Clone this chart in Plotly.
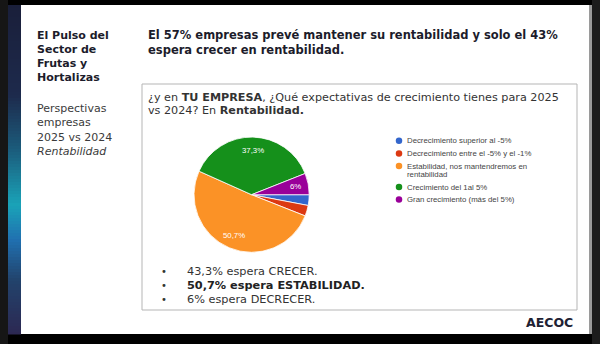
import math
import plotly.graph_objects as go

# ---------------- data ----------------
categories = [
    "Decrecimiento superior al -5%",
    "Decrecimiento entre el -5% y el -1%",
    "Estabilidad, nos mantendremos en\nrentabilidad",
    "Crecimiento del 1al 5%",
    "Gran crecimiento (más del 5%)",
]
values = [3.0, 3.0, 50.7, 37.3, 6.0]
colors = ["#3366cc", "#dc3912", "#fb9226", "#15901b", "#990099"]

summary_pct = ["43,3%", "50,7%", "6%"]
summary_rest = [" espera CRECER.", " espera ESTABILIDAD.", " espera DECRECER."]
summary_bold = [False, True, False]

side_title = ["El Pulso del", "Sector de", "Frutas y", "Hortalizas"]
side_sub = ["Perspectivas", "empresas", "2025 vs 2024"]
side_sub_italic = "Rentabilidad"
headline = ["El 57% empresas prevé mantener su rentabilidad y solo el 43%",
            "espera crecer en rentabilidad."]
question = ["¿y en <b>TU EMPRESA</b>, ¿Qué expectativas de crecimiento tienes para 2025",
            "vs 2024? En <b>Rentabilidad.</b>"]
brand = "AECOC"

# ---------------- helpers ----------------
W, H = 600, 344
VERDANA = "DejaVu Sans"
ARIAL = "Liberation Sans"


def txt(x, y, s, size, color, family=VERDANA, xanchor="left"):
    return dict(x=x, y=y, xref="x", yref="y", text=s, showarrow=False,
                xanchor=xanchor, yanchor="middle", align="left",
                font=dict(family=family, size=size, color=color))


def hex2rgb(h):
    h = h.lstrip("#")
    return tuple(int(h[i:i + 2], 16) for i in (0, 2, 4))


def mix(c1, c2, t):
    a, b = hex2rgb(c1), hex2rgb(c2)
    return "rgb(%d,%d,%d)" % tuple(round(a[i] + (b[i] - a[i]) * t) for i in range(3))


shapes = []
# slide background (white) on a black screen
shapes.append(dict(type="rect", xref="x", yref="y", x0=0, x1=8, y0=0, y1=H,
                   fillcolor="#161616", line_width=0, layer="below"))
shapes.append(dict(type="rect", xref="x", yref="y", x0=21, x1=589, y0=5, y1=334,
                   fillcolor="#ffffff", line_width=0, layer="below"))
shapes.append(dict(type="rect", xref="x", yref="y", x0=589, x1=592, y0=5, y1=334,
                   fillcolor="#9a9a9a", line_width=0, layer="below"))
shapes.append(dict(type="rect", xref="x", yref="y", x0=592, x1=W, y0=0, y1=H,
                   fillcolor="#1c1c1c", line_width=0, layer="below"))

# left decorative gradient strip
stops = [(5, "#1a1f3a"), (95, "#1d2a4c"), (150, "#1b5c7c"), (205, "#1aa3b8"),
         (240, "#2070b0"), (280, "#22436c"), (334, "#2c2852")]
step = 3
y = 5
while y < 334:
    yc = y + step / 2
    for (ya, ca), (yb, cb) in zip(stops[:-1], stops[1:]):
        if ya <= yc <= yb:
            col = mix(ca, cb, (yc - ya) / (yb - ya))
            break
    shapes.append(dict(type="rect", xref="x", yref="y", x0=8, x1=21, y0=y,
                       y1=min(y + step, 334) + 0.5, fillcolor=col, line_width=0,
                       layer="below"))
    y += step

# question box
shapes.append(dict(type="rect", xref="x", yref="y", x0=142, x1=577, y0=84, y1=310,
                   fillcolor="rgba(0,0,0,0)", line=dict(color="#b5b5b5", width=1),
                   layer="below"))

fig = go.Figure()

# ---------------- pie ----------------
cx, cy, r = 251.6, 194.7, 57.6
START_DEG = 90  # first slice starts at 3 o'clock, clockwise
fig.add_trace(go.Pie(
    labels=[c.replace("\n", " ") for c in categories],
    values=values,
    textinfo="none",
    sort=False,
    direction="clockwise",
    rotation=START_DEG,
    marker=dict(colors=colors, line=dict(color="white", width=0.8)),
    domain=dict(x=[(cx - r) / W, (cx + r) / W], y=[1 - (cy + r) / H, 1 - (cy - r) / H]),
    showlegend=False,
    hoverinfo="label+percent",
))

annotations = []
# slice percentage labels (Google-chart style, placed at 77% of radius on slice mid-angle)
total = sum(values)
acc = 0.0
for v in values:
    mid = (acc + v / 2) / total * 2 * math.pi  # clockwise from start (3 o'clock)
    acc += v
    if v / total < 0.05:
        continue
    lbl = f"{v:g}".replace(".", ",") + "%"
    annotations.append(txt(cx + 0.77 * r * math.cos(mid), cy + 0.77 * r * math.sin(mid),
                           lbl, 7.8, "white", ARIAL, xanchor="center"))

# ---------------- custom legend (Google-Forms style) ----------------
LEG_X, LEG_Y0, LINE_H, GAP = 399, 140.8, 8.4, 4.2
leg_y = []
yy = LEG_Y0
for cat in categories:
    leg_y.append(yy)
    for k, line in enumerate(cat.split("\n")):
        annotations.append(txt(LEG_X + 5.5, yy + k * LINE_H, line, 7.8, "#444444", ARIAL))
    yy += len(cat.split("\n")) * LINE_H + GAP

fig.add_trace(go.Scatter(
    x=[LEG_X] * len(categories), y=leg_y, mode="markers",
    marker=dict(color=colors, size=6.5, line_width=0),
    showlegend=False, hoverinfo="skip",
))

# ---------------- slide texts ----------------
for i, s in enumerate(side_title):
    annotations.append(txt(35, 35 + i * 14, "<b>" + s + "</b>", 11, "#1c1c2b"))
for i, s in enumerate(side_sub):
    annotations.append(txt(35, 108.3 + i * 14.4, s, 11, "#3b3b3b"))
annotations.append(txt(35, 151.7, "<i>" + side_sub_italic + "</i>", 11, "#3b3b3b"))

for i, s in enumerate(headline):
    annotations.append(txt(146, 35 + i * 15, "<b>" + s + "</b>", 11.5, "#1c1c2b"))
for i, s in enumerate(question):
    annotations.append(txt(146, 97 + i * 13.6, s, 11.2, "#333333"))

for i, (p, rest, b) in enumerate(zip(summary_pct, summary_rest, summary_bold)):
    yb = 271.8 + i * 13.8
    s = p + rest
    if b:
        s = "<b>" + s + "</b>"
    annotations.append(txt(164, yb, "•", 10, "#333333", xanchor="center"))
    annotations.append(txt(185, yb, s, 11.3, "#222222" if b else "#333333"))

annotations.append(txt(575, 322, "<b>" + brand + "</b>", 12.5, "#1e2233", xanchor="right"))

fig.update_layout(
    width=W, height=H,
    margin=dict(l=0, r=0, t=0, b=0),
    paper_bgcolor="#000000",
    plot_bgcolor="rgba(0,0,0,0)",
    xaxis=dict(range=[0, W], visible=False, fixedrange=True, domain=[0, 1]),
    yaxis=dict(range=[H, 0], visible=False, fixedrange=True, domain=[0, 1]),
    shapes=shapes,
    annotations=annotations,
    showlegend=False,
)

fig.write_html("out.html")
